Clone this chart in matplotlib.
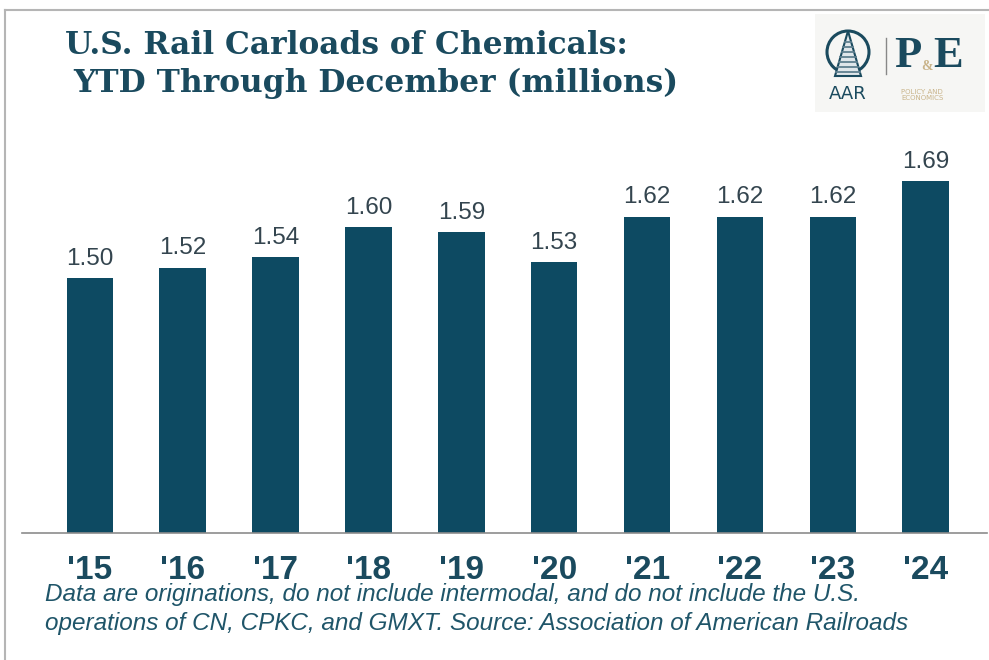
import matplotlib

matplotlib.use("Agg")

import matplotlib.pyplot as plt
from matplotlib.lines import Line2D
from matplotlib.patches import Rectangle, Circle, Polygon

years = ["'15", "'16", "'17", "'18", "'19", "'20", "'21", "'22", "'23", "'24"]
carloads = [1.50, 1.52, 1.54, 1.60, 1.59, 1.53, 1.62, 1.62, 1.62, 1.69]

bar_color = "#0d4a62"
text_color = "#1a4a5e"
tan = "#c9b48a"

W, H = 989, 660
fig = plt.figure(figsize=(W / 100, H / 100), dpi=100)
fig.patch.set_facecolor("white")

# frame lines of the slide
fig.add_artist(Line2D([5 / W, 1], [1 - 10 / H, 1 - 10 / H], color="#b5b5b5", lw=1.5))
fig.add_artist(Line2D([5 / W, 5 / W], [0, 1 - 10 / H], color="#b5b5b5", lw=1.5))

ax = fig.add_axes([22 / W, 1 - 533 / H, (987 - 22) / W, (533 - 140) / H])
x = list(range(len(years)))
ax.bar(x, carloads, width=0.5, color=bar_color, bottom=0)
ax.set_ylim(1.0, 1.77)
ax.set_xlim(-0.73, 9.66)
for xi, v in zip(x, carloads):
    ax.text(xi, v + 0.016, f"{v:.2f}", ha="center", va="bottom",
            fontsize=17.5, color="#34454f", family="Liberation Sans")

for side in ["top", "right", "left"]:
    ax.spines[side].set_visible(False)
ax.spines["bottom"].set_color("#8c8c8c")
ax.spines["bottom"].set_linewidth(1.2)
ax.set_yticks([])
ax.set_xticks(x)
ax.set_xticklabels(years, fontsize=24, fontweight="bold", color=text_color,
                   family=["Liberation Sans Narrow", "Liberation Sans"])
ax.tick_params(axis="x", length=0, pad=16)

fig.text(65 / W, 1 - 46 / H, "U.S. Rail Carloads of Chemicals:", fontsize=22.5,
         fontweight="bold", family="DejaVu Serif", color=text_color, va="center")
fig.text(73 / W, 1 - 83 / H, "YTD Through December (millions)", fontsize=22.5,
         fontweight="bold", family="DejaVu Serif", color=text_color, va="center")

fig.text(45 / W, 1 - 609 / H,
         "Data are originations, do not include intermodal, and do not include the U.S.\n"
         "operations of CN, CPKC, and GMXT. Source: Association of American Railroads",
         fontsize=17.5, style="italic", color="#1f5569", family="Liberation Sans",
         va="center", linespacing=1.28)

# logo
lax = fig.add_axes([815 / W, 1 - 112 / H, 170 / W, 98 / H])
lax.set_xlim(815, 985)
lax.set_ylim(112, 14)
lax.axis("off")
lax.add_patch(Rectangle((815, 14), 170, 98, facecolor="#f6f6f4", edgecolor="none", zorder=0))
lax.add_patch(Circle((848, 52), 21, fill=False, edgecolor=text_color, lw=2.2))
lax.add_patch(Polygon([[848, 31], [835, 76], [861, 76]], closed=True,
                      facecolor="#dfe6ea", edgecolor=text_color, lw=1.5))
for ty in range(42, 76, 5):
    half = (ty - 31) / 45 * 13
    lax.plot([848 - half, 848 + half], [ty, ty], color="#5f7f8f", lw=1.3)
lax.text(848, 94, "AAR", ha="center", va="center", fontsize=13, color=text_color,
         family="Liberation Sans Narrow")
lax.plot([886, 886], [38, 74], color="#888888", lw=1)
lax.text(894, 56, "P", ha="left", va="center", fontsize=32, fontweight="bold",
         color=text_color, family="Liberation Serif")
lax.text(921, 66, "&", ha="left", va="center", fontsize=10, color=tan,
         family="Liberation Serif", fontweight="bold")
lax.text(933, 56, "E", ha="left", va="center", fontsize=32, fontweight="bold",
         color=text_color, family="Liberation Serif")
lax.text(901, 95, "POLICY AND\nECONOMICS", ha="left", va="center", fontsize=5,
         color=tan, family="DejaVu Sans", linespacing=1.2)

fig.savefig("out.png", dpi=100)
